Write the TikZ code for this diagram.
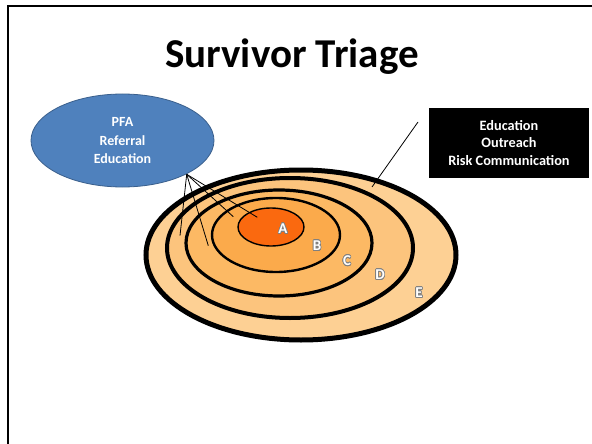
\documentclass[tikz,border=0pt]{standalone}
\usepackage{fontspec}
\setmainfont{Carlito}
\usepackage{contour}
\contourlength{0.7pt}
\definecolor{ringA}{RGB}{250,105,15}
\definecolor{ringB}{RGB}{251,170,75}
\definecolor{ringC}{RGB}{252,185,100}
\definecolor{ringD}{RGB}{252,196,125}
\definecolor{ringE}{RGB}{253,208,148}
\definecolor{pfablue}{RGB}{79,129,189}
\definecolor{pfaedge}{RGB}{58,95,140}
\begin{document}
\begin{tikzpicture}[x=1pt,y=-1pt,
  lbl/.style={font=\bfseries\fontsize{15}{15}\selectfont,text=white},
  conn/.style={draw=black,line width=0.8pt}]
\useasboundingbox (0,0) rectangle (592,444);
\draw[line width=2.4pt] (8,444) -- (8,6) -- (592,6);
\node[anchor=base,font=\bfseries\fontsize{41}{41}\selectfont] (title) at (292,67) {Survivor Triage};
% rings
\fill[ringE,draw=black,line width=5pt] (301,255) ellipse [x radius=155,y radius=85];
\fill[ringD,draw=black,line width=4pt] (290,248) ellipse [x radius=123,y radius=70];
\fill[ringC,draw=black,line width=3.2pt] (279,243) ellipse [x radius=93,y radius=53];
\fill[ringB,draw=black,line width=2.4pt] (276,235) ellipse [x radius=64,y radius=37];
\fill[ringA,draw=black,line width=1.4pt] (271,227) ellipse [x radius=33,y radius=19];
% labels
\node[lbl] (la) at (283,229) {\contour{gray}{A}};
\node[lbl] (lb) at (317,246) {\contour{gray}{B}};
\node[lbl] (lc) at (347,261) {\contour{gray}{C}};
\node[lbl] (ld) at (380,275) {\contour{gray}{D}};
\node[lbl] (le) at (419,293) {\contour{gray}{E}};
% PFA ellipse
\fill[pfablue,draw=pfaedge,line width=0.8pt] (122.5,140.5) ellipse [x radius=91.5,y radius=46.5];
\node[font=\bfseries\fontsize{14}{18.5}\selectfont,text=white,align=center,
  inner sep=0pt] (pfa) at (122.5,141) {PFA\\Referral\\Education};
\coordinate (apex) at (186.7,174.3);
\coordinate (p1) at (180,235.7);
\coordinate (p2) at (208.3,245.7);
\coordinate (p3) at (233.3,216.7);
\coordinate (p4) at (257.3,217.3);
\foreach \p in {p1,p2,p3,p4} \draw[conn] (apex) -- (\p);
% black box
\node[fill=black,text=white,font=\bfseries\fontsize{14.3}{17.5}\selectfont,align=center,
  minimum width=160pt,minimum height=70pt,inner sep=0pt] (edu) at (509,143) {Education\\Outreach\\Risk Communication};
\coordinate (q1) at (418,122);
\coordinate (q2) at (372,187);
\draw[conn] (q1) -- (q2);
\end{tikzpicture}
\end{document}
